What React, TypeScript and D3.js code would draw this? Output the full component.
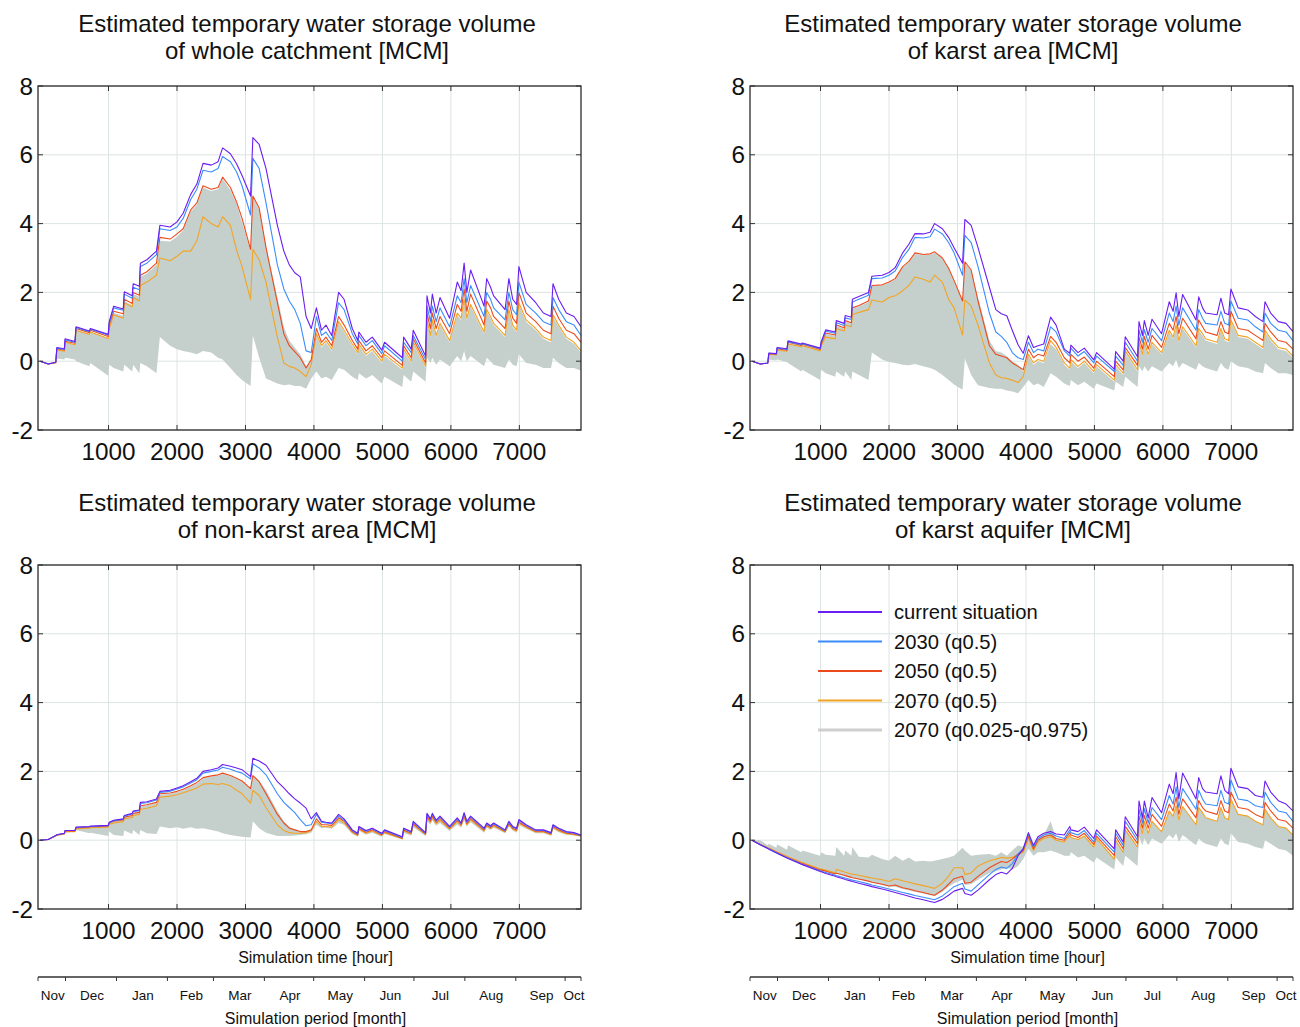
import React from 'react';
import * as d3 from 'd3';

const W = 1300;
const H = 1027;

// simulation hour of each sample
const hours = [
  0, 120, 230, 245, 355, 365, 510, 525, 720, 735,
  995, 1010, 1075, 1215, 1230, 1345, 1360, 1450, 1465, 1560,
  1700, 1750, 1900, 2000, 2090, 2200, 2290, 2380, 2500, 2600,
  2666, 2780, 2870, 2950, 3074, 3108, 3200, 3300, 3466, 3560,
  3640, 3720, 3800, 3885, 3960, 4036, 4110, 4175, 4260, 4360,
  4440, 4560, 4640, 4656, 4760, 4852, 4990, 5031, 5290, 5310,
  5420, 5450, 5630, 5651, 5701, 5729, 5785, 5841, 5981, 6093,
  6149, 6193, 6233, 6288, 6484, 6523, 6579, 6624, 6791, 6847,
  6903, 6959, 6993, 7099, 7239, 7350, 7462, 7491, 7574, 7686,
  7798, 7900,
];

// whole catchment
const wholeCurrent = [
  0, -0.08, -0.03, 0.40, 0.36, 0.65, 0.57, 1.00, 0.88, 0.95,
  0.78, 1.15, 1.60, 1.52, 2.02, 1.90, 2.25, 2.18, 2.85, 2.95,
  3.20, 3.95, 3.90, 4.05, 4.30, 4.85, 5.15, 5.75, 5.70, 5.80,
  6.20, 6.03, 5.74, 5.40, 4.80, 6.50, 6.30, 5.60, 3.95, 3.20,
  2.80, 2.57, 2.45, 1.30, 0.95, 1.55, 0.90, 1.05, 0.75, 2.00,
  1.80, 0.95, 0.60, 0.85, 0.55, 0.70, 0.32, 0.55, 0.10, 0.70,
  0.35, 0.90, 0.15, 1.90, 1.40, 1.95, 1.40, 1.85, 1.25, 2.30,
  2.05, 2.85, 2.00, 2.65, 1.60, 2.40, 2.15, 1.90, 1.50, 2.40,
  1.80, 1.65, 2.75, 2.00, 1.70, 1.40, 1.30, 2.25, 1.80, 1.40,
  1.30, 1.00,
];
const whole2030 = [
  0, -0.08, -0.03, 0.38, 0.34, 0.62, 0.55, 0.98, 0.86, 0.93,
  0.76, 1.10, 1.55, 1.48, 1.95, 1.83, 2.15, 2.08, 2.75, 2.85,
  3.10, 3.85, 3.80, 3.90, 4.15, 4.70, 5.00, 5.55, 5.50, 5.60,
  5.95, 5.80, 5.50, 5.10, 4.25, 5.90, 5.60, 4.60, 2.80, 2.10,
  1.75, 1.50, 1.10, 0.30, 0.25, 1.30, 0.75, 0.85, 0.60, 1.70,
  1.50, 0.80, 0.50, 0.75, 0.45, 0.60, 0.22, 0.45, 0.00, 0.55,
  0.25, 0.75, 0.05, 1.60, 1.15, 1.60, 1.15, 1.55, 1.00, 1.90,
  1.70, 2.40, 1.70, 2.20, 1.30, 2.00, 1.80, 1.55, 1.20, 2.00,
  1.50, 1.35, 2.30, 1.65, 1.40, 1.15, 1.05, 1.85, 1.50, 1.15,
  1.05, 0.75,
];
const whole2050 = [
  0, -0.08, -0.04, 0.36, 0.32, 0.58, 0.52, 0.95, 0.83, 0.90,
  0.72, 1.05, 1.45, 1.38, 1.80, 1.68, 2.00, 1.92, 2.50, 2.60,
  2.85, 3.60, 3.55, 3.70, 3.85, 4.40, 4.60, 5.10, 5.00, 5.05,
  5.35, 5.05, 4.63, 4.15, 3.25, 4.80, 4.45, 3.30, 1.70, 0.80,
  0.45, 0.28, 0.10, -0.20, 0.05, 0.95, 0.55, 0.70, 0.45, 1.30,
  1.05, 0.60, 0.35, 0.60, 0.30, 0.45, 0.10, 0.30, -0.12, 0.45,
  0.10, 0.65, -0.05, 1.40, 0.95, 1.40, 0.95, 1.30, 0.80, 1.65,
  1.45, 2.10, 1.45, 1.95, 1.05, 1.75, 1.55, 1.30, 0.95, 1.75,
  1.25, 1.10, 2.00, 1.40, 1.15, 0.90, 0.80, 1.60, 1.25, 0.90,
  0.80, 0.55,
];
const whole2070 = [
  0, -0.08, -0.05, 0.33, 0.29, 0.55, 0.48, 0.90, 0.78, 0.85,
  0.66, 0.95, 1.35, 1.25, 1.70, 1.58, 1.85, 1.75, 2.20, 2.30,
  2.50, 3.00, 2.92, 3.05, 3.20, 3.20, 3.50, 4.20, 4.00, 3.90,
  4.20, 3.95, 3.23, 2.75, 1.80, 3.25, 2.95, 2.30, 0.70, -0.05,
  -0.15, -0.20, -0.30, -0.45, -0.10, 0.80, 0.45, 0.60, 0.35, 1.15,
  0.90, 0.50, 0.25, 0.50, 0.20, 0.35, 0.00, 0.20, -0.20, 0.35,
  0.00, 0.55, -0.15, 1.20, 0.75, 1.20, 0.75, 1.10, 0.60, 1.40,
  1.25, 1.80, 1.25, 1.65, 0.85, 1.50, 1.30, 1.10, 0.75, 1.50,
  1.05, 0.90, 1.70, 1.20, 0.95, 0.70, 0.60, 1.35, 1.05, 0.70,
  0.55, 0.30,
];
const wholeLow = [
  0, -0.05, -0.02, 0.08, 0.05, 0.10, 0.05, 0.00, -0.15, -0.05,
  -0.42, -0.10, -0.20, -0.30, -0.10, -0.30, -0.10, -0.35, -0.05, -0.15,
  -0.35, 0.70, 0.45, 0.35, 0.30, 0.25, 0.20, 0.30, 0.25, 0.10,
  0.05, -0.20, -0.40, -0.55, -0.72, 0.75, 0.10, -0.50, -0.65, -0.70,
  -0.68, -0.72, -0.72, -0.80, -0.50, -0.30, -0.50, -0.45, -0.55, -0.20,
  -0.25, -0.45, -0.55, -0.35, -0.50, -0.40, -0.65, -0.45, -0.75, -0.40,
  -0.60, -0.30, -0.60, 0.10, -0.05, 0.10, -0.10, 0.05, -0.15, 0.15,
  0.00, 0.30, 0.00, 0.15, -0.15, 0.10, 0.00, -0.10, -0.20, 0.05,
  -0.10, -0.15, 0.20, -0.05, -0.10, -0.20, -0.20, 0.10, -0.05, -0.20,
  -0.20, -0.28,
];
const wholeHigh = [
  0, -0.08, -0.05, 0.33, 0.29, 0.55, 0.48, 0.90, 0.78, 0.85,
  0.66, 0.98, 1.40, 1.32, 1.75, 1.63, 1.95, 1.87, 2.45, 2.55,
  2.80, 3.50, 3.48, 3.62, 3.80, 4.35, 4.55, 5.05, 4.95, 5.00,
  5.30, 4.98, 4.58, 4.05, 3.20, 4.75, 4.40, 3.35, 1.85, 1.00,
  0.60, 0.40, 0.20, -0.15, 0.05, 0.75, 0.40, 0.55, 0.30, 1.10,
  0.85, 0.45, 0.20, 0.45, 0.15, 0.30, -0.05, 0.15, -0.25, 0.30,
  -0.05, 0.50, -0.20, 1.15, 0.70, 1.15, 0.70, 1.05, 0.55, 1.35,
  1.20, 1.75, 1.20, 1.60, 0.80, 1.45, 1.25, 1.05, 0.70, 1.45,
  1.00, 0.85, 1.65, 1.15, 0.90, 0.65, 0.55, 1.30, 1.00, 0.65,
  0.50, 0.25,
];

// karst area
const karstCurrent = [
  0, -0.08, -0.05, 0.24, 0.22, 0.40, 0.36, 0.59, 0.50, 0.53,
  0.38, 0.57, 0.91, 0.85, 1.18, 1.10, 1.33, 1.28, 1.80, 1.88,
  2.00, 2.47, 2.50, 2.58, 2.72, 3.15, 3.40, 3.71, 3.70, 3.75,
  4.00, 3.85, 3.60, 3.30, 2.85, 4.12, 3.95, 3.30, 2.15, 1.50,
  1.38, 1.32, 0.90, 0.48, 0.23, 0.74, 0.40, 0.45, 0.50, 1.28,
  1.05, 0.35, 0.23, 0.47, 0.25, 0.38, 0.04, 0.25, -0.23, 0.28,
  0.00, 0.71, 0.13, 1.15, 0.75, 1.18, 0.75, 1.22, 0.80, 1.73,
  1.45, 1.99, 1.30, 1.94, 1.20, 1.87, 1.55, 1.40, 1.35, 1.83,
  1.40, 1.35, 2.10, 1.55, 1.49, 1.30, 1.15, 1.73, 1.40, 1.15,
  1.10, 0.86,
];
const karst2030 = [
  0, -0.08, -0.05, 0.23, 0.21, 0.38, 0.34, 0.57, 0.48, 0.51,
  0.36, 0.54, 0.87, 0.81, 1.12, 1.04, 1.26, 1.21, 1.72, 1.80,
  1.92, 2.40, 2.42, 2.50, 2.62, 3.02, 3.25, 3.60, 3.58, 3.62,
  3.84, 3.70, 3.45, 3.15, 2.50, 3.66, 3.45, 2.75, 1.40, 0.85,
  0.72, 0.55, 0.25, 0.10, 0.05, 0.55, 0.25, 0.35, 0.30, 1.00,
  0.85, 0.30, 0.15, 0.38, 0.15, 0.28, -0.05, 0.15, -0.30, 0.15,
  -0.12, 0.55, 0.00, 0.90, 0.55, 0.92, 0.55, 0.95, 0.60, 1.40,
  1.15, 1.60, 1.05, 1.55, 0.90, 1.50, 1.25, 1.10, 1.05, 1.45,
  1.10, 1.05, 1.75, 1.25, 1.20, 1.00, 0.85, 1.40, 1.10, 0.90,
  0.85, 0.60,
];
const karst2050 = [
  0, -0.08, -0.06, 0.22, 0.20, 0.36, 0.32, 0.55, 0.46, 0.49,
  0.34, 0.50, 0.82, 0.76, 1.05, 0.97, 1.18, 1.12, 1.55, 1.62,
  1.75, 2.20, 2.22, 2.30, 2.40, 2.75, 2.90, 3.15, 3.10, 3.12,
  3.18, 3.00, 2.70, 2.35, 1.75, 2.89, 2.65, 1.75, 0.45, 0.20,
  0.15, 0.10, -0.05, -0.15, -0.25, 0.35, 0.10, 0.20, 0.15, 0.72,
  0.55, 0.10, -0.05, 0.20, 0.00, 0.12, -0.20, 0.00, -0.45, 0.00,
  -0.25, 0.40, -0.12, 0.70, 0.35, 0.72, 0.35, 0.75, 0.40, 1.10,
  0.90, 1.30, 0.80, 1.25, 0.65, 1.20, 1.00, 0.85, 0.75, 1.15,
  0.85, 0.80, 1.45, 0.95, 0.90, 0.75, 0.60, 1.10, 0.85, 0.60,
  0.55, 0.35,
];
const karst2070 = [
  0, -0.08, -0.06, 0.20, 0.18, 0.33, 0.29, 0.50, 0.42, 0.45,
  0.30, 0.45, 0.70, 0.65, 0.95, 0.88, 1.05, 1.00, 1.35, 1.42,
  1.50, 1.78, 1.72, 1.85, 1.90, 2.05, 2.20, 2.45, 2.38, 2.30,
  2.50, 2.30, 1.80, 1.55, 0.76, 1.78, 1.60, 1.05, -0.05, -0.40,
  -0.48, -0.50, -0.55, -0.62, -0.45, 0.20, -0.05, 0.05, 0.00, 0.60,
  0.40, -0.05, -0.20, 0.05, -0.15, 0.00, -0.30, -0.10, -0.55, -0.10,
  -0.35, 0.30, -0.25, 0.55, 0.20, 0.55, 0.20, 0.55, 0.25, 0.90,
  0.70, 1.05, 0.60, 1.00, 0.45, 0.95, 0.80, 0.65, 0.55, 0.95,
  0.65, 0.60, 1.20, 0.75, 0.70, 0.55, 0.40, 0.90, 0.65, 0.40,
  0.35, 0.15,
];
const karstLow = [
  0, -0.05, -0.05, 0.05, 0.02, 0.05, -0.02, -0.05, -0.30, -0.25,
  -0.55, -0.25, -0.35, -0.45, -0.30, -0.45, -0.30, -0.55, -0.30, -0.40,
  -0.55, 0.25, 0.05, -0.02, -0.05, -0.10, -0.12, -0.08, -0.15, -0.20,
  -0.25, -0.40, -0.55, -0.68, -0.83, 0.08, -0.40, -0.70, -0.78, -0.80,
  -0.80, -0.85, -0.88, -0.93, -0.75, -0.55, -0.70, -0.65, -0.75, -0.35,
  -0.45, -0.65, -0.72, -0.55, -0.70, -0.60, -0.80, -0.65, -0.85, -0.60,
  -0.75, -0.45, -0.75, -0.15, -0.30, -0.15, -0.30, -0.15, -0.30, -0.05,
  -0.15, 0.05, -0.20, -0.05, -0.25, -0.05, -0.15, -0.20, -0.30, -0.05,
  -0.20, -0.25, 0.00, -0.15, -0.20, -0.30, -0.35, -0.05, -0.20, -0.35,
  -0.35, -0.40,
];
const karstHigh = [
  0, -0.08, -0.06, 0.20, 0.18, 0.33, 0.29, 0.52, 0.44, 0.47,
  0.32, 0.48, 0.80, 0.74, 1.02, 0.95, 1.15, 1.10, 1.52, 1.60,
  1.72, 2.18, 2.20, 2.28, 2.38, 2.72, 2.88, 3.12, 3.08, 3.10,
  3.15, 2.98, 2.68, 2.33, 1.72, 2.86, 2.62, 1.85, 0.60, 0.30,
  0.25, 0.15, 0.00, -0.10, -0.30, 0.15, -0.10, 0.00, -0.05, 0.50,
  0.35, -0.10, -0.25, 0.00, -0.20, -0.05, -0.35, -0.15, -0.60, -0.15,
  -0.40, 0.25, -0.30, 0.50, 0.15, 0.50, 0.15, 0.50, 0.20, 0.85,
  0.65, 1.00, 0.55, 0.95, 0.40, 0.90, 0.75, 0.60, 0.50, 0.90,
  0.60, 0.55, 1.15, 0.70, 0.65, 0.50, 0.35, 0.85, 0.60, 0.35,
  0.30, 0.10,
];

// non-karst area
const nonKarstCurrent = [
  0, 0.02, 0.14, 0.16, 0.20, 0.28, 0.28, 0.38, 0.40, 0.41,
  0.43, 0.52, 0.58, 0.62, 0.72, 0.78, 0.85, 0.88, 1.10, 1.12,
  1.20, 1.42, 1.45, 1.52, 1.58, 1.70, 1.80, 2.00, 2.05, 2.10,
  2.20, 2.15, 2.10, 2.05, 1.85, 2.38, 2.30, 2.18, 1.70, 1.52,
  1.35, 1.20, 1.08, 0.93, 0.62, 0.80, 0.55, 0.52, 0.50, 0.75,
  0.62, 0.30, 0.20, 0.40, 0.28, 0.35, 0.20, 0.30, 0.10, 0.35,
  0.25, 0.55, 0.22, 0.78, 0.62, 0.78, 0.58, 0.70, 0.40, 0.65,
  0.50, 0.80, 0.55, 0.70, 0.35, 0.50, 0.42, 0.50, 0.30, 0.55,
  0.40, 0.35, 0.60, 0.45, 0.30, 0.30, 0.22, 0.45, 0.35, 0.25,
  0.22, 0.15,
];
const nonKarst2030 = [
  0, 0.02, 0.14, 0.16, 0.20, 0.28, 0.28, 0.37, 0.39, 0.40,
  0.42, 0.51, 0.57, 0.61, 0.70, 0.76, 0.83, 0.86, 1.07, 1.09,
  1.17, 1.39, 1.42, 1.49, 1.55, 1.66, 1.76, 1.95, 2.00, 2.04,
  2.12, 2.06, 2.00, 1.95, 1.78, 2.22, 2.10, 1.90, 1.35, 1.10,
  0.95, 0.80, 0.60, 0.42, 0.45, 0.75, 0.52, 0.50, 0.48, 0.70,
  0.58, 0.28, 0.18, 0.38, 0.26, 0.33, 0.18, 0.28, 0.08, 0.33,
  0.23, 0.52, 0.20, 0.75, 0.60, 0.75, 0.55, 0.67, 0.38, 0.62,
  0.48, 0.77, 0.52, 0.67, 0.33, 0.48, 0.40, 0.48, 0.28, 0.52,
  0.38, 0.33, 0.57, 0.43, 0.28, 0.28, 0.20, 0.43, 0.33, 0.23,
  0.20, 0.14,
];
const nonKarst2050 = [
  0, 0.02, 0.13, 0.15, 0.19, 0.27, 0.27, 0.36, 0.38, 0.39,
  0.41, 0.50, 0.55, 0.59, 0.67, 0.72, 0.78, 0.81, 1.00, 1.03,
  1.10, 1.35, 1.37, 1.42, 1.48, 1.58, 1.68, 1.82, 1.87, 1.90,
  1.95, 1.88, 1.80, 1.72, 1.50, 1.88, 1.70, 1.35, 0.75, 0.50,
  0.35, 0.30, 0.25, 0.25, 0.30, 0.62, 0.45, 0.45, 0.43, 0.65,
  0.55, 0.25, 0.16, 0.35, 0.23, 0.30, 0.16, 0.25, 0.06, 0.30,
  0.20, 0.48, 0.18, 0.70, 0.56, 0.70, 0.52, 0.63, 0.35, 0.58,
  0.45, 0.72, 0.48, 0.63, 0.30, 0.45, 0.37, 0.45, 0.26, 0.48,
  0.35, 0.30, 0.53, 0.40, 0.26, 0.26, 0.18, 0.40, 0.30, 0.21,
  0.18, 0.13,
];
const nonKarst2070 = [
  0, 0.02, 0.12, 0.14, 0.18, 0.25, 0.25, 0.33, 0.35, 0.36,
  0.38, 0.46, 0.50, 0.54, 0.62, 0.66, 0.72, 0.75, 0.90, 0.93,
  1.00, 1.25, 1.28, 1.32, 1.38, 1.45, 1.52, 1.63, 1.65, 1.62,
  1.65, 1.58, 1.45, 1.35, 1.08, 1.45, 1.30, 0.95, 0.45, 0.28,
  0.22, 0.20, 0.20, 0.22, 0.28, 0.55, 0.40, 0.40, 0.38, 0.60,
  0.50, 0.22, 0.14, 0.32, 0.20, 0.27, 0.14, 0.22, 0.04, 0.27,
  0.18, 0.45, 0.16, 0.65, 0.52, 0.65, 0.48, 0.58, 0.32, 0.54,
  0.42, 0.67, 0.45, 0.59, 0.27, 0.42, 0.34, 0.42, 0.24, 0.45,
  0.32, 0.27, 0.50, 0.37, 0.24, 0.24, 0.16, 0.37, 0.27, 0.19,
  0.16, 0.12,
];
const nonKarstLow = [
  0, 0.02, 0.12, 0.14, 0.18, 0.22, 0.25, 0.30, 0.20, 0.22,
  0.12, 0.25, 0.15, 0.12, 0.28, 0.18, 0.30, 0.15, 0.30, 0.20,
  0.18, 0.40, 0.35, 0.38, 0.33, 0.38, 0.33, 0.35, 0.30, 0.25,
  0.20, 0.15, 0.12, 0.10, 0.08, 0.55, 0.35, 0.22, 0.12, 0.12,
  0.12, 0.14, 0.15, 0.17, 0.22, 0.45, 0.35, 0.36, 0.33, 0.50,
  0.45, 0.18, 0.10, 0.28, 0.16, 0.22, 0.10, 0.18, 0.02, 0.22,
  0.13, 0.38, 0.12, 0.55, 0.45, 0.58, 0.42, 0.50, 0.27, 0.46,
  0.36, 0.58, 0.40, 0.52, 0.22, 0.36, 0.30, 0.36, 0.20, 0.40,
  0.28, 0.22, 0.44, 0.33, 0.20, 0.20, 0.13, 0.33, 0.23, 0.16,
  0.14, 0.10,
];
const nonKarstHigh = [
  0, 0.02, 0.13, 0.15, 0.19, 0.26, 0.26, 0.35, 0.37, 0.38,
  0.40, 0.49, 0.54, 0.58, 0.66, 0.71, 0.77, 0.80, 0.98, 1.01,
  1.08, 1.32, 1.35, 1.40, 1.46, 1.56, 1.65, 1.80, 1.85, 1.88,
  1.93, 1.86, 1.78, 1.70, 1.48, 1.86, 1.72, 1.45, 0.85, 0.55,
  0.40, 0.32, 0.26, 0.24, 0.29, 0.55, 0.41, 0.41, 0.39, 0.61,
  0.51, 0.23, 0.15, 0.33, 0.21, 0.28, 0.15, 0.23, 0.05, 0.28,
  0.19, 0.46, 0.17, 0.66, 0.53, 0.66, 0.49, 0.59, 0.33, 0.55,
  0.43, 0.68, 0.46, 0.60, 0.28, 0.43, 0.35, 0.43, 0.25, 0.46,
  0.33, 0.28, 0.51, 0.38, 0.25, 0.25, 0.17, 0.38, 0.28, 0.20,
  0.17, 0.12,
];

// karst aquifer
const aquiferCurrent = [
  0, -0.13, -0.24, -0.26, -0.37, -0.38, -0.52, -0.53, -0.70, -0.71,
  -0.91, -0.92, -0.97, -1.05, -1.06, -1.13, -1.14, -1.19, -1.20, -1.25,
  -1.32, -1.35, -1.42, -1.47, -1.52, -1.58, -1.63, -1.68, -1.73, -1.78,
  -1.81, -1.72, -1.60, -1.48, -1.40, -1.55, -1.60, -1.45, -1.15, -1.00,
  -0.93, -0.98, -0.82, -0.45, -0.25, 0.22, -0.15, 0.10, 0.20, 0.25,
  0.18, 0.15, 0.40, 0.30, 0.25, 0.38, 0.05, 0.30, -0.25, 0.30,
  -0.05, 0.68, 0.10, 1.14, 0.65, 1.14, 0.65, 1.24, 0.80, 1.63,
  1.35, 1.97, 1.20, 1.95, 1.20, 1.82, 1.50, 1.40, 1.35, 1.87,
  1.45, 1.35, 2.09, 1.55, 1.50, 1.30, 1.25, 1.72, 1.40, 1.15,
  1.05, 0.85,
];
const aquifer2030 = [
  0, -0.13, -0.24, -0.25, -0.36, -0.37, -0.51, -0.52, -0.69, -0.70,
  -0.89, -0.90, -0.94, -1.02, -1.03, -1.09, -1.10, -1.15, -1.16, -1.20,
  -1.27, -1.30, -1.37, -1.42, -1.46, -1.52, -1.56, -1.61, -1.66, -1.70,
  -1.73, -1.62, -1.48, -1.35, -1.25, -1.42, -1.48, -1.30, -1.00, -0.85,
  -0.78, -0.82, -0.68, -0.40, -0.25, 0.18, -0.20, 0.05, 0.15, 0.20,
  0.12, 0.05, 0.30, 0.22, 0.15, 0.28, -0.05, 0.20, -0.35, 0.20,
  -0.15, 0.55, 0.00, 0.90, 0.50, 0.92, 0.50, 0.95, 0.60, 1.30,
  1.05, 1.55, 0.95, 1.50, 0.90, 1.45, 1.20, 1.05, 1.00, 1.45,
  1.10, 1.05, 1.75, 1.20, 1.15, 1.00, 0.95, 1.40, 1.10, 0.85,
  0.80, 0.55,
];
const aquifer2050 = [
  0, -0.13, -0.23, -0.24, -0.35, -0.36, -0.50, -0.51, -0.67, -0.68,
  -0.87, -0.87, -0.90, -0.98, -0.96, -1.02, -1.03, -1.08, -1.09, -1.13,
  -1.19, -1.22, -1.28, -1.33, -1.30, -1.38, -1.42, -1.47, -1.52, -1.57,
  -1.60, -1.45, -1.28, -1.12, -1.05, -1.25, -1.22, -1.05, -0.80, -0.70,
  -0.62, -0.65, -0.55, -0.40, -0.30, 0.12, -0.25, 0.00, 0.10, 0.15,
  0.05, 0.00, 0.22, 0.15, 0.08, 0.20, -0.12, 0.12, -0.45, 0.10,
  -0.25, 0.40, -0.10, 0.70, 0.35, 0.72, 0.35, 0.75, 0.40, 1.05,
  0.85, 1.25, 0.75, 1.20, 0.65, 1.15, 0.95, 0.85, 0.75, 1.15,
  0.85, 0.80, 1.40, 0.95, 0.90, 0.75, 0.65, 1.10, 0.85, 0.60,
  0.55, 0.35,
];
const aquifer2070 = [
  0, -0.12, -0.22, -0.23, -0.33, -0.34, -0.47, -0.48, -0.64, -0.65,
  -0.84, -0.84, -0.87, -0.95, -0.85, -0.92, -0.93, -0.98, -0.99, -1.02,
  -1.08, -1.10, -1.15, -1.20, -1.12, -1.18, -1.22, -1.27, -1.32, -1.37,
  -1.40, -1.25, -1.05, -0.80, -0.80, -1.00, -0.95, -0.75, -0.60, -0.55,
  -0.50, -0.52, -0.50, -0.42, -0.35, 0.05, -0.30, -0.05, 0.05, 0.10,
  0.00, -0.05, 0.15, 0.08, 0.02, 0.12, -0.20, 0.05, -0.55, 0.00,
  -0.35, 0.30, -0.20, 0.55, 0.20, 0.55, 0.20, 0.55, 0.25, 0.85,
  0.70, 1.00, 0.60, 0.98, 0.45, 0.95, 0.80, 0.65, 0.55, 0.95,
  0.65, 0.60, 1.20, 0.75, 0.70, 0.55, 0.45, 0.90, 0.65, 0.40,
  0.35, 0.15,
];
const aquiferLow = [
  0, -0.13, -0.23, -0.24, -0.35, -0.36, -0.50, -0.51, -0.67, -0.68,
  -0.87, -0.87, -0.90, -0.98, -0.97, -1.03, -1.04, -1.09, -1.10, -1.14,
  -1.20, -1.23, -1.30, -1.35, -1.35, -1.42, -1.46, -1.50, -1.55, -1.60,
  -1.62, -1.50, -1.35, -1.25, -1.15, -1.30, -1.28, -1.15, -0.95, -0.90,
  -0.85, -0.80, -0.85, -0.75, -0.55, -0.25, -0.45, -0.35, -0.35, -0.30,
  -0.35, -0.45, -0.45, -0.35, -0.50, -0.45, -0.65, -0.50, -0.85, -0.50,
  -0.75, -0.45, -0.75, 0.10, -0.15, 0.05, -0.15, 0.05, -0.10, 0.15,
  0.05, 0.20, -0.05, 0.15, -0.15, 0.05, -0.05, -0.10, -0.20, 0.05,
  -0.10, -0.15, 0.20, -0.05, -0.10, -0.20, -0.25, 0.00, -0.10, -0.25,
  -0.30, -0.45,
];
const aquiferHigh = [
  0, 0.00, -0.15, -0.10, -0.22, -0.12, -0.28, -0.15, -0.35, -0.30,
  -0.45, -0.35, -0.42, -0.45, -0.20, -0.45, -0.30, -0.45, -0.20, -0.48,
  -0.50, -0.42, -0.55, -0.60, -0.45, -0.60, -0.50, -0.62, -0.60, -0.62,
  -0.60, -0.55, -0.50, -0.45, -0.22, -0.30, -0.45, -0.42, -0.40, -0.45,
  -0.35, -0.45, -0.30, -0.15, -0.20, 0.15, -0.20, 0.05, 0.15, 0.55,
  0.05, -0.05, 0.15, 0.08, 0.02, 0.12, -0.20, 0.05, -0.55, 0.00,
  -0.35, 0.30, -0.20, 0.55, 0.20, 0.55, 0.20, 0.55, 0.25, 0.85,
  0.70, 1.00, 0.60, 0.98, 0.45, 0.95, 0.80, 0.65, 0.55, 0.95,
  0.65, 0.60, 1.20, 0.75, 0.70, 0.55, 0.45, 0.90, 0.65, 0.40,
  0.35, 0.15,
];

const legendLabels = ['current situation', '2030 (q0.5)', '2050 (q0.5)', '2070 (q0.5)', '2070 (q0.025-q0.975)'];
const lineColors = ['#6a1ef2', '#3b8cfb', '#ec4a1c', '#f2a424'];
const bandColor = '#c5d0cd';
const bandLegendColor = '#cfcfcf';
const yTicks = [-2, 0, 2, 4, 6, 8];
const xTicks = [1000, 2000, 3000, 4000, 5000, 6000, 7000];
const hourDomain = [-30, 7900];
const simStart = new Date(Date.UTC(2018, 10, 15, 12));

const panels = [
  { id: 'a', title: ['Estimated temporary water storage volume', 'of whole catchment [MCM]'], left: 38, top: 86, titleX: 307,
    lines: [wholeCurrent, whole2030, whole2050, whole2070], low: wholeLow, high: wholeHigh, bottom: false, legend: false },
  { id: 'b', title: ['Estimated temporary water storage volume', 'of karst area [MCM]'], left: 750, top: 86, titleX: 1013,
    lines: [karstCurrent, karst2030, karst2050, karst2070], low: karstLow, high: karstHigh, bottom: false, legend: false },
  { id: 'c', title: ['Estimated temporary water storage volume', 'of non-karst area [MCM]'], left: 38, top: 565, titleX: 307,
    lines: [nonKarstCurrent, nonKarst2030, nonKarst2050, nonKarst2070], low: nonKarstLow, high: nonKarstHigh, bottom: true, legend: false },
  { id: 'd', title: ['Estimated temporary water storage volume', 'of karst aquifer [MCM]'], left: 750, top: 565, titleX: 1013,
    lines: [aquiferCurrent, aquifer2030, aquifer2050, aquifer2070], low: aquiferLow, high: aquiferHigh, bottom: true, legend: true },
];

const PW = 543;
const PH = 344;
const font = 'Liberation Sans, Arial, sans-serif';

function Panel({ p }) {
  const x = d3.scaleLinear().domain(hourDomain).range([p.left, p.left + PW]);
  const y = d3.scaleLinear().domain([-2, 8]).range([p.top + PH, p.top]);
  const line = d3.line<number>().x((d, i) => x(hours[i])).y(d => y(d));
  const area = d3.area<number>().x((d, i) => x(hours[i])).y0((d, i) => y(p.low[i])).y1(d => y(d));
  const clipId = 'clip-' + p.id;
  const drawOrder = [3, 2, 1, 0];

  const simEnd = new Date(simStart.getTime() + hourDomain[1] * 3600e3);
  const monthStarts = d3.utcMonths(simStart, simEnd).map(d => (d.getTime() - simStart.getTime()) / 3600e3);
  const bounds = [hourDomain[0], ...monthStarts, hourDomain[1]];
  const monthFmt = d3.utcFormat('%b');
  const monthNames = [simStart, ...d3.utcMonths(simStart, simEnd)].map(d => monthFmt(d));
  const axisY = 977;
  const midX = p.left + PW / 2 + 6;

  return (
    <g>
      <defs>
        <clipPath id={clipId}>
          <rect x={p.left} y={p.top} width={PW} height={PH} />
        </clipPath>
      </defs>
      {p.title.map((t, i) => (
        <text key={i} x={p.titleX} y={p.top - 54 + i * 27} textAnchor="middle" fontSize={24} fontFamily={font} fill="#111">{t}</text>
      ))}
      {xTicks.map(t => (
        <line key={'gx' + t} x1={x(t)} x2={x(t)} y1={p.top} y2={p.top + PH} stroke="#dce4e4" strokeWidth={1} />
      ))}
      {yTicks.map(t => (
        <line key={'gy' + t} x1={p.left} x2={p.left + PW} y1={y(t)} y2={y(t)} stroke="#dce4e4" strokeWidth={1} />
      ))}
      <g clipPath={`url(#${clipId})`}>
        <path d={area(p.high) || ''} fill={bandColor} stroke="none" />
        {drawOrder.map(k => (
          <path key={k} d={line(p.lines[k]) || ''} fill="none" stroke={lineColors[k]} strokeWidth={1.1} strokeLinejoin="round" />
        ))}
      </g>
      {xTicks.map(t => (
        <g key={'tx' + t}>
          <line x1={x(t)} x2={x(t)} y1={p.top + PH} y2={p.top + PH - 5} stroke="#333" />
          <line x1={x(t)} x2={x(t)} y1={p.top} y2={p.top + 5} stroke="#333" />
          <text x={x(t)} y={p.top + PH + 30} textAnchor="middle" fontSize={24.3} fontFamily={font} fill="#111">{t}</text>
        </g>
      ))}
      {yTicks.map(t => (
        <g key={'ty' + t}>
          <line x1={p.left} x2={p.left + 5} y1={y(t)} y2={y(t)} stroke="#333" />
          <line x1={p.left + PW} x2={p.left + PW - 5} y1={y(t)} y2={y(t)} stroke="#333" />
          <text x={p.left - 5} y={y(t) + 8.5} textAnchor="end" fontSize={24.3} fontFamily={font} fill="#111">{t}</text>
        </g>
      ))}
      <rect x={p.left} y={p.top} width={PW} height={PH} fill="none" stroke="#2b2b2b" strokeWidth={1.3} />
      {p.bottom && (
        <g>
          <text x={midX} y={p.top + PH + 54} textAnchor="middle" fontSize={16} fontFamily={font} fill="#111">Simulation time [hour]</text>
          <line x1={p.left} x2={p.left + PW} y1={axisY} y2={axisY} stroke="#333" strokeWidth={1.3} />
          {bounds.map((b, i) => (
            <line key={'mt' + i} x1={x(b)} x2={x(b)} y1={axisY} y2={axisY + 4} stroke="#333" />
          ))}
          {monthNames.map((m, i) => (
            <text key={'mn' + i} x={(x(bounds[i]) + x(bounds[i + 1])) / 2 + 1} y={1000} textAnchor="middle" fontSize={13.5} fontFamily={font} fill="#111">{m}</text>
          ))}
          <text x={midX} y={1024} textAnchor="middle" fontSize={16} fontFamily={font} fill="#111">Simulation period [month]</text>
        </g>
      )}
      {p.legend && (
        <g>
          {legendLabels.map((l, i) => (
            <g key={l}>
              <line x1={818} x2={882} y1={612 + i * 29.5} y2={612 + i * 29.5}
                stroke={i < 4 ? lineColors[i] : bandLegendColor} strokeWidth={i < 4 ? 2.2 : 3} />
              <text x={894} y={612 + i * 29.5 + 7} fontSize={20.2} fontFamily={font} fill="#111">{l}</text>
            </g>
          ))}
        </g>
      )}
    </g>
  );
}

export default function App() {
  return (
    <svg width={W} height={H} style={{ position: 'absolute', left: 0, top: 0, background: '#fff' }}>
      <rect width={W} height={H} fill="#fff" />
      {panels.map(p => <Panel key={p.id} p={p} />)}
    </svg>
  );
}
